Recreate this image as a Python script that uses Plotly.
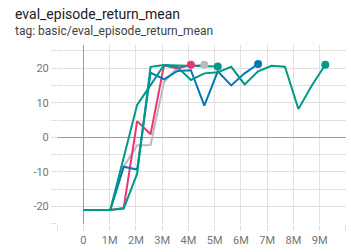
import plotly.graph_objects as go

step = 512000
# eval points every 512k steps
pink_y = [-21, -21, -21, -20.4, 4.7, 0.9, 20.8, 19.9, 21.0]
gray_y = [-21, -21, -21, -8.5, -2.3, -2.2, 16.0, 20.2, 20.8, 21.0]
blue_y = [-21, -21, -21, -8.5, -9.3, 18.7, 16.8, 19.2, 19.4, 9.2, 19.1, 15.0, 18.5, 21.2]
tealA_y = [-21, -21, -21, -20.6, -10.5, 20.4, 20.9, 20.8, 20.7, 20.6, 20.5]
tealB_y = [-21, -21, -21, -5.8, 9.4, 15.1, 20.9, 20.3, 16.6, 18.5, 18.8, 20.4, 15.3, 19.1,
           20.7, 20.4, 8.2, 15.0, 21.0]

series = [
    ("gray", gray_y, "#bbbbbb"),
    ("pink", pink_y, "#ee3377"),
    ("blue", blue_y, "#0077bb"),
    ("tealA", tealA_y, "#009988"),
    ("tealB", tealB_y, "#009988"),
]

x_tick_vals = [-1e6, 0, 1e6, 2e6, 3e6, 4e6, 5e6, 6e6, 7e6, 8e6, 9e6, 10e6]
x_tick_text = ["", "0", "1M", "2M", "3M", "4M", "5M", "6M", "7M", "8M", "9M", ""]
y_tick_vals = [-25, -20, -15, -10, -5, 0, 5, 10, 15, 20, 25]
y_tick_text = ["", "-20", "", "-10", "", "0", "", "10", "", "20", ""]

fig = go.Figure()
for name, ys, col in series:
    xs = [i * step for i in range(len(ys))]
    fig.add_trace(go.Scatter(x=xs, y=ys, mode="lines", line=dict(color=col, width=2),
                             name=name, hoverinfo="skip"))
for name, ys, col in series:
    xs = [i * step for i in range(len(ys))]
    fig.add_trace(go.Scatter(x=[xs[-1]], y=[ys[-1]], mode="markers",
                             marker=dict(color=col, size=8), hoverinfo="skip"))

grid = "#e0e0e0"
tick_col = "#757575"
fig.update_layout(
    width=351, height=252,
    margin=dict(l=57, r=5, t=45, b=26),
    paper_bgcolor="white", plot_bgcolor="white",
    showlegend=False,
    font=dict(family="Roboto", size=11, color=tick_col),
    xaxis=dict(range=[-1.005e6, 10.005e6], tickvals=x_tick_vals, ticktext=x_tick_text,
               showgrid=True, gridcolor=grid, gridwidth=1,
               ticks="outside", ticklen=6, tickcolor=grid,
               zeroline=True, zerolinecolor="#9e9e9e", zerolinewidth=1,
               showline=False, tickfont=dict(size=11, color=tick_col)),
    yaxis=dict(range=[-25.05, 26.7], tickvals=y_tick_vals, ticktext=y_tick_text,
               showgrid=True, gridcolor=grid, gridwidth=1,
               ticks="outside", ticklen=5, tickcolor=grid,
               zeroline=True, zerolinecolor="#9e9e9e", zerolinewidth=1,
               showline=False, tickfont=dict(size=11, color=tick_col)),
    annotations=[
        dict(text="eval_episode_return_mean", xref="paper", yref="paper",
             x=-0.153, y=1.171, xanchor="left", yanchor="middle", showarrow=False,
             font=dict(family="Roboto", size=14, color="#212121")),
        dict(text="tag: basic/eval_episode_return_mean", xref="paper", yref="paper",
             x=-0.153, y=1.077, xanchor="left", yanchor="middle", showarrow=False,
             font=dict(family="Roboto", size=12, color="#424242")),
    ],
)
fig.write_html("out.html")
